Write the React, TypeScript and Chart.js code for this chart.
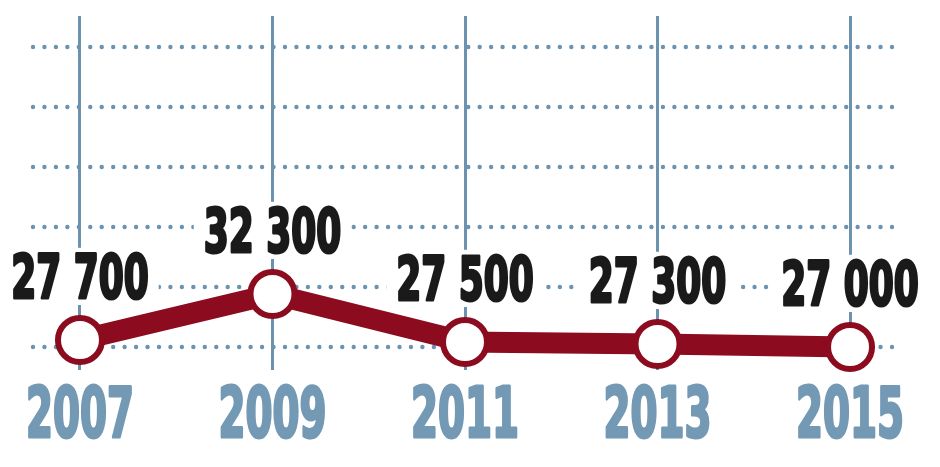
import React, { useEffect, useRef } from "react";
import { Chart, registerables } from "chart.js";

Chart.register(...registerables);

const years = [2007, 2009, 2011, 2013, 2015];
const values = [27700, 32300, 27500, 27300, 27000];
const valueLabels = ["27 700", "32 300", "27 500", "27 300", "27 000"];
const yGridValues = [27000, 33000, 39000, 45000, 51000, 57000];

const FONT = "'Liberation Sans Narrow', 'DejaVu Sans Condensed', 'Liberation Sans', sans-serif";
const RED = "#8c0b1f";
const BLUE_LINE = "#6b93b0";
const BLUE_TEXT = "#7399b5";

function drawCondensed(
  ctx: CanvasRenderingContext2D,
  text: string,
  cx: number,
  baseline: number,
  size: number,
  digitW: number,
  color: string,
  bg: boolean
) {
  ctx.font = `bold ${size}px ${FONT}`;
  const sx = digitW / ctx.measureText("0").width;
  const w = ctx.measureText(text).width * sx;
  const cap = size * 0.72;
  if (bg) {
    ctx.fillStyle = "#ffffff";
    ctx.fillRect(cx - w / 2 - 10, baseline - cap - 7, w + 20, cap + 14);
  }
  ctx.save();
  ctx.translate(cx, baseline);
  ctx.scale(sx, 1);
  ctx.fillStyle = color;
  ctx.strokeStyle = color;
  ctx.lineWidth = 3;
  ctx.lineJoin = "round";
  ctx.textAlign = "center";
  ctx.textBaseline = "alphabetic";
  ctx.fillText(text, 0, 0);
  ctx.strokeText(text, 0, 0);
  ctx.restore();
}

const dotGridPlugin = {
  id: "dotGrid",
  beforeDatasetsDraw(chart: any) {
    const ctx = chart.ctx as CanvasRenderingContext2D;
    const ys = chart.scales.y;
    const { left, right } = chart.chartArea;
    const step = (right - left) / 75;
    ctx.save();
    ctx.fillStyle = BLUE_LINE;
    yGridValues.forEach((v) => {
      const py = ys.getPixelForValue(v);
      for (let k = 0; k <= 75; k++) {
        ctx.beginPath();
        ctx.arc(left + k * step, py, 2.2, 0, Math.PI * 2);
        ctx.fill();
      }
    });
    ctx.restore();
  },
};

const labelPlugin = {
  id: "customLabels",
  afterDatasetsDraw(chart: any) {
    const ctx = chart.ctx as CanvasRenderingContext2D;
    const meta = chart.getDatasetMeta(0);
    const xs = chart.scales.x;
    ctx.save();
    meta.data.forEach((pt: any, i: number) => {
      drawCondensed(ctx, valueLabels[i], pt.x, pt.y - 42, 60, 25, "#1a1a1a", true);
    });
    years.forEach((yr) => {
      drawCondensed(ctx, String(yr), xs.getPixelForValue(yr), 437, 69, 27, BLUE_TEXT, false);
    });
    ctx.restore();
  },
};

export default function App() {
  const ref = useRef<HTMLCanvasElement | null>(null);

  useEffect(() => {
    if (!ref.current) return;
    const chart = new Chart(ref.current, {
      type: "line",
      data: {
        datasets: [
          {
            data: years.map((x, i) => ({ x, y: values[i] })),
            borderColor: RED,
            borderWidth: 21,
            pointRadius: 22,
            pointBorderWidth: 6,
            pointBackgroundColor: "#ffffff",
            pointBorderColor: RED,
            tension: 0,
            clip: false as any,
          },
        ],
      },
      options: {
        responsive: false,
        animation: false,
        events: [],
        layout: { autoPadding: false, padding: { left: 33, right: 48, top: 16, bottom: 97 } },
        plugins: { legend: { display: false }, tooltip: { enabled: false } },
        scales: {
          x: {
            type: "linear",
            min: 2006.512,
            max: 2015.436,
            afterBuildTicks: (s: any) => {
              s.ticks = years.map((v) => ({ value: v }));
            },
            ticks: { display: false },
            grid: { color: BLUE_LINE, lineWidth: 3, drawTicks: false },
            border: { display: false },
          },
          y: {
            type: "linear",
            min: 24700,
            max: 60100,
            afterBuildTicks: (s: any) => {
              s.ticks = yGridValues.map((v) => ({ value: v }));
            },
            ticks: { display: false },
            grid: { display: false, drawTicks: false },
            border: { display: false },
          },
        },
      },
      plugins: [dotGridPlugin, labelPlugin],
    });
    return () => chart.destroy();
  }, []);

  return (
    <div style={{ position: "absolute", left: 0, top: 0, width: 940, height: 467, background: "#fff" }}>
      <canvas ref={ref} width={940} height={467} style={{ display: "block" }} />
    </div>
  );
}
